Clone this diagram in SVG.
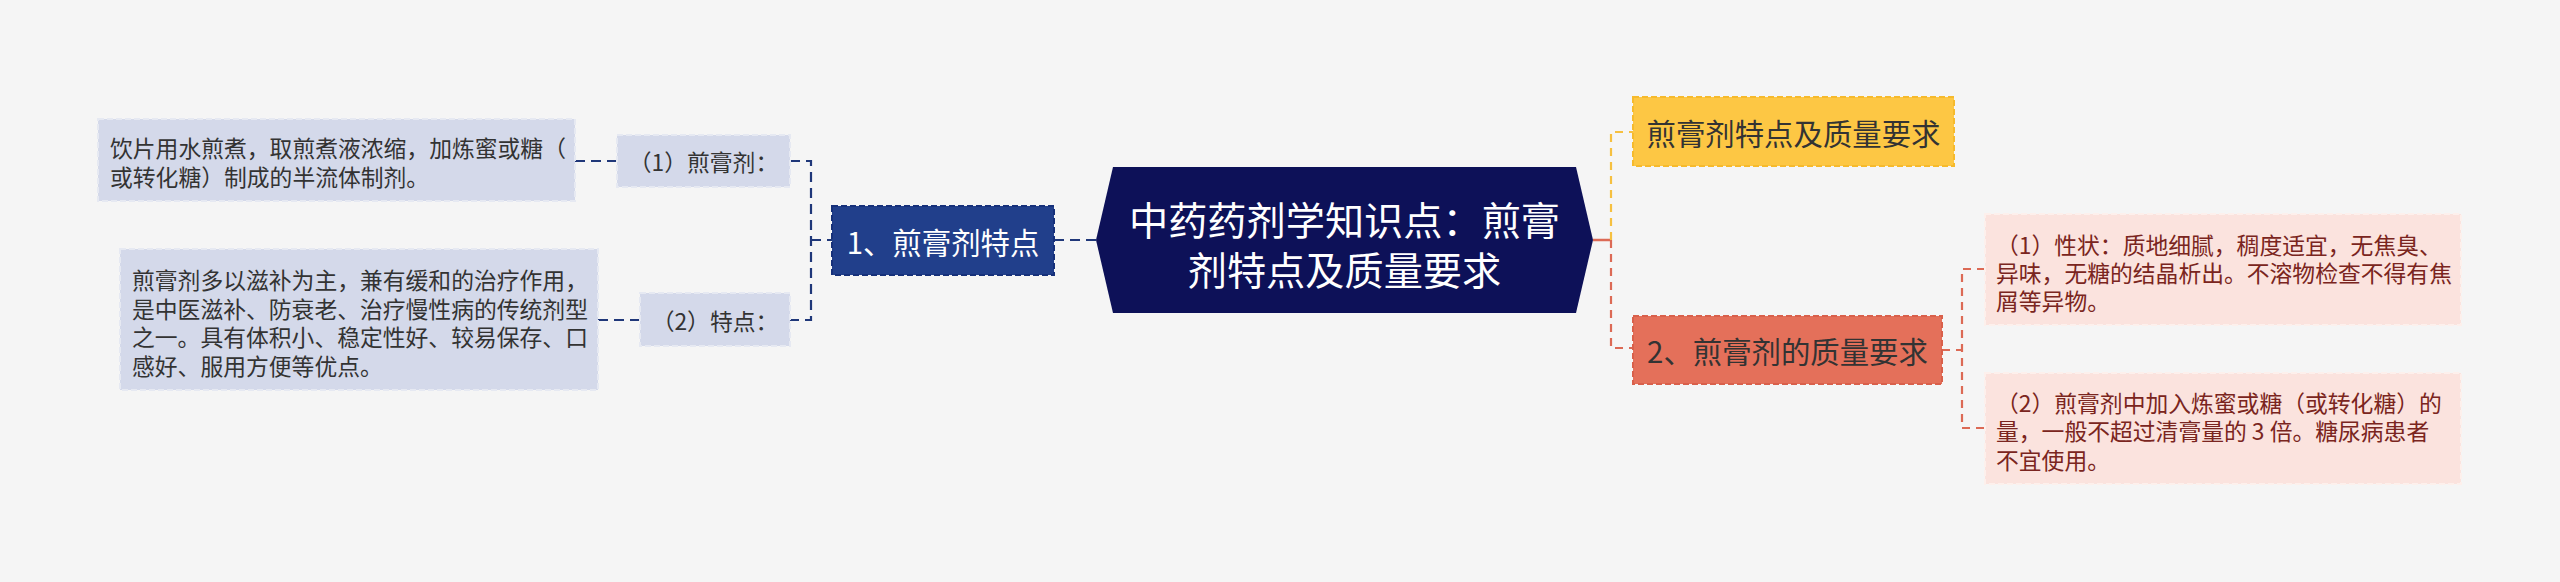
<svg xmlns="http://www.w3.org/2000/svg" width="2560" height="582" viewBox="0 0 2560 582">
<style>
text{font-family:"Noto Sans CJK SC","Noto Sans",sans-serif;dominant-baseline:central}
.leafL rect{fill:#d4d9ea;stroke:#e6e9f2;stroke-width:2;stroke-dasharray:6 3}
.leafL text{font-size:22.8px;fill:#333333}
.leafR rect{fill:#fbe3de;stroke:#fdf0ec;stroke-width:2;stroke-dasharray:6 3}
.leafR text{font-size:22.8px;fill:#7a2520}
.main text{font-size:29.4px}
.cn{fill:none;stroke-width:2.2}
.navy{stroke:#1f3779;stroke-dasharray:10 6}
.yel{stroke:#f6c040;stroke-dasharray:8 6}
.red{stroke:#dc6a55;stroke-dasharray:8 6}
</style>
<rect width="2560" height="582" fill="#f5f5f5"/>
<g id="connectors">
  <path class="cn navy" d="M575,161 H617"/>
  <path class="cn navy" d="M598,320 H640"/>
  <path class="cn navy" d="M790,161 H811 V320 H790"/>
  <path class="cn navy" d="M811,240 H832"/>
  <path class="cn navy" d="M1054,240 H1096"/>
  <path d="M1593,240 H1611" stroke="#dc6a55" stroke-width="2.5" fill="none"/>
  <path class="cn yel" d="M1611,240 V132 H1633"/>
  <path class="cn red" d="M1611,240 V348 H1633"/>
  <path class="cn red" d="M1942,350 H1962"/>
  <path class="cn red" d="M1985,269 H1962 V428 H1985"/>
</g>
<g id="center">
  <polygon points="1096,240 1113,167 1576,167 1593,240 1576,313 1113,313" fill="#0d1158"/>
  <text x="1344.5" y="218" font-size="39.2" fill="#ffffff" text-anchor="middle">中药药剂学知识点：煎膏</text>
  <text x="1344.5" y="268" font-size="39.2" fill="#ffffff" text-anchor="middle">剂特点及质量要求</text>
</g>
<g id="node1" class="main">
  <rect x="832" y="206" width="222" height="69" fill="#213f8b" stroke="#16307a" stroke-width="2" stroke-dasharray="6 3"/>
  <text x="943" y="240.5" fill="#ffffff" text-anchor="middle">1、煎膏剂特点</text>
</g>
<g id="node-sub1" class="leafL">
  <rect x="617" y="135" width="173" height="52"/>
  <text x="703.5" y="161" text-anchor="middle">（1）煎膏剂：</text>
</g>
<g id="node-sub2" class="leafL">
  <rect x="640" y="293" width="150" height="53"/>
  <text x="715" y="320" text-anchor="middle">（2）特点：</text>
</g>
<g id="node-leaf1" class="leafL">
  <rect x="98" y="119" width="477" height="82"/>
  <text x="110" y="147">饮片用水煎煮，取煎煮液浓缩，加炼蜜或糖（</text>
  <text x="110" y="176">或转化糖）制成的半流体制剂。</text>
</g>
<g id="node-leaf2" class="leafL">
  <rect x="120" y="249" width="478" height="141"/>
  <text x="132" y="279.5">煎膏剂多以滋补为主，兼有缓和的治疗作用，</text>
  <text x="132" y="308">是中医滋补、防衰老、治疗慢性病的传统剂型</text>
  <text x="132" y="336.5">之一。具有体积小、稳定性好、较易保存、口</text>
  <text x="132" y="365">感好、服用方便等优点。</text>
</g>
<g id="node-yellow" class="main">
  <rect x="1633" y="97" width="321" height="69" fill="#fdc744" stroke="#f6ba2c" stroke-width="2" stroke-dasharray="6 3"/>
  <text x="1793.5" y="131.5" fill="#333333" text-anchor="middle">煎膏剂特点及质量要求</text>
</g>
<g id="node2" class="main">
  <rect x="1633" y="316" width="309" height="68" fill="#e4705a" stroke="#d9604b" stroke-width="2" stroke-dasharray="6 3"/>
  <text x="1787.5" y="350" fill="#333333" text-anchor="middle">2、煎膏剂的质量要求</text>
</g>
<g id="node-q1" class="leafR">
  <rect x="1985" y="214" width="476" height="111"/>
  <text x="1996" y="244.5">（1）性状：质地细腻，稠度适宜，无焦臭、</text>
  <text x="1996" y="272.5">异味，无糖的结晶析出。不溶物检查不得有焦</text>
  <text x="1996" y="300.5">屑等异物。</text>
</g>
<g id="node-q2" class="leafR">
  <rect x="1985" y="373" width="476" height="111"/>
  <text x="1996" y="402.5">（2）煎膏剂中加入炼蜜或糖（或转化糖）的</text>
  <text x="1996" y="430.5">量，一般不超过清膏量的 3 倍。糖尿病患者</text>
  <text x="1996" y="459">不宜使用。</text>
</g>
</svg>
